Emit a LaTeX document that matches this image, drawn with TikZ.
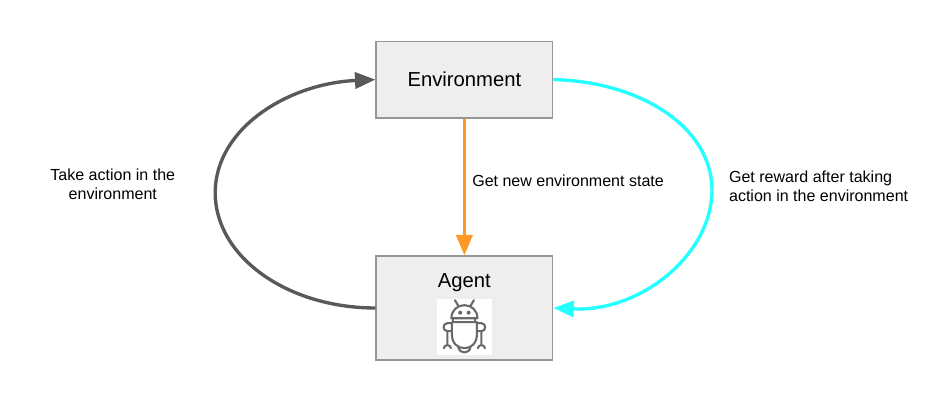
\documentclass[tikz,border=0pt]{standalone}
\usepackage{fontspec}
\setmainfont{Liberation Sans}
\usetikzlibrary{arrows.meta}
\definecolor{boxfill}{RGB}{238, 238, 238}
\definecolor{boxline}{RGB}{150, 150, 150}
\definecolor{loopgray}{RGB}{89, 89, 89}
\definecolor{rewardcyan}{RGB}{38, 255, 255}
\definecolor{stateorange}{RGB}{255, 153, 38}
\definecolor{robotgray}{RGB}{105, 105, 105}
\tikzset{
    blockbox/.style={draw=boxline, fill=boxfill, line width=0.9pt, minimum width=4.42cm, inner sep=0pt},
    blocktext/.style={font=\fontsize{14.4}{17}\selectfont, inner sep=0pt},
    edgetext/.style={font=\fontsize{11.4}{13.6}\selectfont, inner sep=0pt},
    flow/.style={line width=2.4pt, -{Triangle[length=14.5pt, width=11.5pt]}},
    robotline/.style={draw=robotgray, line width=1.5pt, line cap=round, line join=round}
}

\begin{document}
\begin{tikzpicture}
            \useasboundingbox (0.00, 0.00) rectangle (23.675, 10.00);
            \node[blockbox, minimum height=1.92cm, blocktext] (env)   at (11.61, 8.01) {\raisebox{-1pt}{Environment}};
            \node[blockbox, minimum height=2.60cm]            (agent) at (11.61, 2.30) {};
            \node[blocktext] (agentname) at (11.61, 2.93) {Agent};
            \node[fill=white, minimum width=1.38cm, minimum height=1.40cm, inner sep=0pt] (icon) at (11.61, 1.82) {};
            \coordinate (leftpeak)  at ( 5.38, 5.18);
            \coordinate (rightpeak) at (17.80, 5.25);
            % loops
            \draw[flow, loopgray] (agent.west) .. controls +(-2.20, 0.00) and +(0.00,-1.60) .. (leftpeak)
                 .. controls +(0.00, 1.60) and +(-2.20,-0.10) .. (env.west);
            \draw[line width=2.4pt, rewardcyan] (env.east) .. controls +(2.20,-0.05) and +(0.00, 1.55) .. (rightpeak);
            \draw[flow, rewardcyan] (rightpeak) .. controls +(0.00,-1.60) and +(2.20,-0.10) .. (agent.east);
            \draw[flow, stateorange] (env.south) -- (agent.north);
            % labels
            \node[edgetext, align=center] (takelabel)   at ( 2.82, 5.39) {Take action in the\\environment};
            \node[edgetext, anchor=west]  (statelabel)  at (11.80, 5.49) {Get new environment state};
            \node[edgetext, align=left, anchor=west] (rewardlabel) at (18.22, 5.34) {Get reward after taking\\action in the environment};
            % robot icon
            \begin{scope}[shift={(icon.center)}, x=0.025cm, y=-0.025cm]
                \draw[robotline] (-9.5,-27) -- (-6.5,-22);
                \draw[robotline] ( 9.5,-27) -- ( 6.5,-22);
                \draw[robotline] (-13,-9) -- (13,-9) .. controls (13,-17) and (7,-22) .. (0,-22) .. controls (-7,-22) and (-13,-17) .. (-13,-9) -- cycle;
                \fill[robotgray] (-4.2,-14.5) circle (2) (4.2,-14.5) circle (2);
                \draw[robotline] (-11,-9) -- (-11,-5) -- (11,-5) -- (11,-9);
                \draw[robotline] (-12.5,-5) -- (12.5,-5) -- (12.5,7) .. controls (12.5,16) and (7,21) .. (0,21) .. controls (-7,21) and (-12.5,16) .. (-12.5,7) -- cycle;
                \draw[robotline] (-6,20) .. controls (-5,27) and (5,27) .. (6,20);
                \draw[robotline] (-12.5,-4) -- (-17,-4) .. controls (-22,-4) and (-22,4) .. (-17,4) -- (-12.5,4);
                \draw[robotline] ( 12.5,-4) -- ( 17,-4) .. controls ( 22,-4) and ( 22,4) .. ( 17,4) -- ( 12.5,4);
                \draw[robotline] (-17,4) -- (-17,18) (-20.5,21) .. controls (-20.5,17) and (-13.5,17) .. (-13.5,21);
                \draw[robotline] ( 17,4) -- ( 17,18) ( 20.5,21) .. controls ( 20.5,17) and ( 13.5,17) .. ( 13.5,21);
            \end{scope}
\end{tikzpicture}
\end{document}
